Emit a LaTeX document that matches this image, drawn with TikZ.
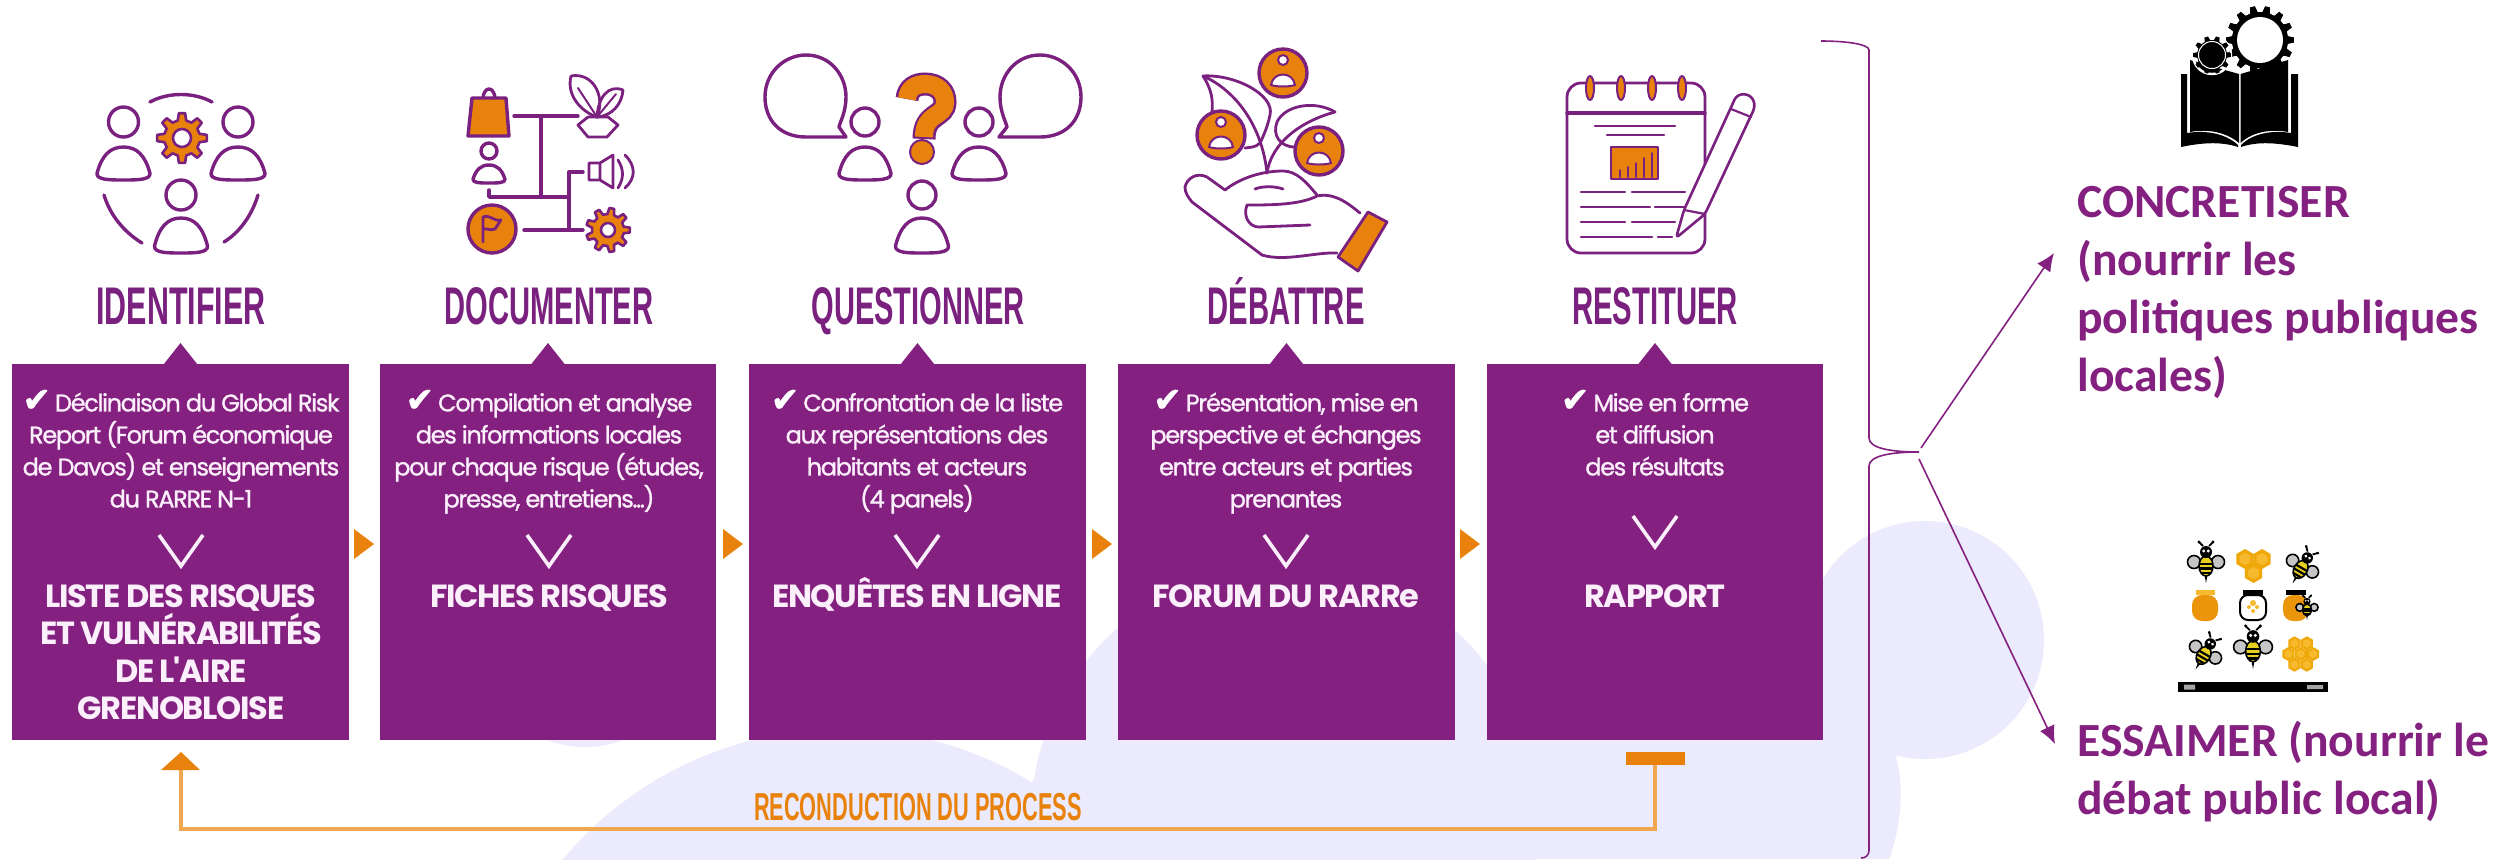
\documentclass[tikz,border=0pt]{standalone}
\usepackage{fontspec}
\usepackage{graphicx}
\usetikzlibrary{arrows.meta}
\newfontfamily\bodyf[LetterSpace=-5.5,FakeBold=1.2]{Poppins}
\newfontfamily\headf[LetterSpace=-4]{Poppins}
\newfontfamily\chkf[FakeBold=1.5]{DejaVu Sans}
\newfontfamily\ttlf{Liberation Sans}
\newfontfamily\rtf{Carlito}
\definecolor{boxp}{HTML}{84207F}
\definecolor{icop}{HTML}{7A2180}
\definecolor{orgc}{HTML}{E8820C}
\definecolor{orgl}{HTML}{F0A850}
\definecolor{lav}{HTML}{ECEAFD}
\definecolor{txtw}{HTML}{FBEFFB}
\definecolor{beey}{HTML}{E8D020}
\definecolor{honl}{HTML}{F7B92E}
\newdimen\pxu \pxu=0.5pt
\newcommand\chk{{\chkf\color{white}\fontsize{17}{16}\selectfont\char"2714}\,}
\newcommand\ttl[2]{\resizebox{#1\pxu}{\height}{\ttlf\fontsize{26.5}{30}\selectfont\bfseries #2}}
\newcommand\pers[6]{%
 \draw[ico] (#1,#2) circle[radius=#3];
 \draw[ico] ({#1-#6},{#5-0.2*(#5-#4)}) .. controls ({#1-.82*#6},{#4+.25*(#5-#4)}) and ({#1-.5*#6},#4) .. (#1,#4)
   .. controls ({#1+.5*#6},#4) and ({#1+.82*#6},{#4+.25*(#5-#4)}) .. ({#1+#6},{#5-0.2*(#5-#4)})
   .. controls ({#1+1.02*#6},#5) and ({#1+.5*#6},#5) .. (#1,#5)
   .. controls ({#1-.5*#6},#5) and ({#1-1.02*#6},#5) .. cycle;}
\newcommand\gearp[7]{%
 \path[#7] ({#1+#4*cos(-.3*360/#5)},{#2+#4*sin(-.3*360/#5)})
  \foreach \k in {0,...,\numexpr#5-1\relax}{
   -- ({#1+#4*cos((\k-.3)*360/#5)},{#2+#4*sin((\k-.3)*360/#5)})
   -- ({#1+#3*cos((\k-.16)*360/#5)},{#2+#3*sin((\k-.16)*360/#5)})
   -- ({#1+#3*cos((\k+.16)*360/#5)},{#2+#3*sin((\k+.16)*360/#5)})
   -- ({#1+#4*cos((\k+.3)*360/#5)},{#2+#4*sin((\k+.3)*360/#5)})} -- cycle;
 \path[#7,fill=white] (#1,#2) circle[radius=#6];}
\newcommand\badge[2]{%
 \draw[ico,fill=orgc] (#1,#2) circle[radius=24];
 \draw[icot,fill=white] (#1,{#2-13}) circle[radius=5];
 \draw[icot,fill=white] ({#1-12},{#2+12}) .. controls ({#1-10},{#2-2}) and ({#1+10},{#2-2}) .. ({#1+12},{#2+12}) .. controls ({#1+6},{#2+14}) and ({#1-6},{#2+14}) .. cycle;}
\newcommand\bee[4]{\begin{scope}[shift={(#1,#2)},rotate=#3,scale=#4]
 \draw[black,line width=.9pt] (-3,-17) -- (-7,-21) (3,-17) -- (7,-21);
 \fill[black] (-7,-21) circle[radius=1.6] (7,-21) circle[radius=1.6];
 \filldraw[fill=gray!45,draw=black,line width=.8pt] (-12,-1) circle[radius=6.5] (12,-1) circle[radius=6.5];
 \fill[black] (-1.5,12) -- (0,20) -- (1.5,12) -- cycle;
 \filldraw[fill=beey,draw=black,line width=.8pt] (0,3) ellipse[x radius=7,y radius=10];
 \draw[black,line width=1.1pt] (-6.5,1) -- (6.5,1) (-6.5,5.5) -- (6.5,5.5) (-4.5,10) -- (4.5,10);
 \fill[black] (0,-11) circle[radius=6];
 \fill[white] (-2.2,-12) circle[radius=1.6] (2.2,-12) circle[radius=1.6];
\end{scope}}
\newcommand\hexa[4]{%
 \fill[orgc!70!yellow] ({#1},{#2-#3}) -- ({#1+.866*#3},{#2-.5*#3}) -- ({#1+.866*#3},{#2+.5*#3}) -- ({#1},{#2+#3}) -- ({#1-.866*#3},{#2+.5*#3}) -- ({#1-.866*#3},{#2-.5*#3}) -- cycle;
 \fill[#4] ({#1},{#2-.62*#3}) -- ({#1+.54*#3},{#2-.31*#3}) -- ({#1+.54*#3},{#2+.31*#3}) -- ({#1},{#2+.62*#3}) -- ({#1-.54*#3},{#2+.31*#3}) -- ({#1-.54*#3},{#2-.31*#3}) -- cycle;}
\tikzset{
 ico/.style={draw=icop,line width=1.7pt,line join=round,line cap=round},
 icot/.style={draw=icop,line width=1pt,line join=round,line cap=round},
 pbox/.style={fill=boxp,draw=none,inner sep=0,outer sep=0},
 bodytxt/.style={text=txtw,font=\bodyf\fontsize{12}{16}\selectfont,align=center,inner sep=0,anchor=north},
 headtxt/.style={text=txtw,font=\headf\bfseries\fontsize{16}{18.75}\selectfont,align=center,inner sep=0,anchor=north},
 ttlnode/.style={text=icop,inner sep=0,anchor=base},
 rtxt/.style={text=boxp,font=\rtf\bfseries\fontsize{23.8}{29}\selectfont,align=left,inner sep=0,anchor=north west},
 chev/.style={draw=txtw,line width=1.8pt,line join=miter},
 fbline/.style={draw=orgl,line width=1.6pt},
 thinp/.style={draw=boxp,line width=.8pt},
}
\begin{document}
\begin{tikzpicture}[x=0.5pt,y=-0.5pt]
\useasboundingbox (0,0) rectangle (2507,859);
\fill[white] (0,0) rectangle (2507,859);
% background blobs
\begin{scope}
\clip (0,0) rectangle (2507,859);
\fill[lav] (842,1093) circle[radius=364];
\fill[lav] (585,641) circle[radius=106];
\fill[lav] (1285,819) circle[radius=254];
\fill[lav] (1925,640) circle[radius=119];
\fill[lav] (1033,780) -- (1285,700) -- (1850,650) -- (1896,757) .. controls (1905,790) and (1900,830) .. (1889,859) -- (1000,859) -- cycle;
\end{scope}
% boxes
\foreach \nm/\xa/\xb in {b1/12/349,b2/380/716,b3/749/1086,b4/1118/1455,b5/1487/1823}{
  \node[pbox,minimum width={(\xb-\xa)*\pxu},minimum height={376*\pxu}] (\nm) at ({(\xa+\xb)/2},552) {};
  \fill[boxp] ({(\xa+\xb)/2-17},364.5) -- ({(\xa+\xb)/2},343) -- ({(\xa+\xb)/2+17},364.5) -- cycle;
}
% step arrows
\foreach \xa in {354,723,1092,1460}{
  \fill[orgc] (\xa,529) -- ({\xa+20},544) -- (\xa,559) -- cycle;
}
% chevrons
\foreach \cx/\ty in {181/535,549/535,917/535,1286/535,1655/516}{
  \draw[chev] ({\cx-22},\ty) -- (\cx,{\ty+31}) -- ({\cx+22},\ty);
}
% titles
\node[ttlnode] (t1) at (181,324) {\ttl{169}{IDENTIFIER}};
\node[ttlnode] (t2) at (549,324) {\ttl{209}{DOCUMENTER}};
\node[ttlnode] (t3) at (918,324) {\ttl{213}{QUESTIONNER}};
\node[ttlnode] (t4) at (1286,324) {\ttl{157}{DÉBATTRE}};
\node[ttlnode] (t5) at (1655,324) {\ttl{166}{RESTITUER}};
% box texts
\node[bodytxt] (b1t) at (181,385) {\rule{0pt}{13pt}\chk Déclinaison du Global Risk\\Report (Forum économique\\de Davos) et enseignements\\du RARRE N-1};
\node[bodytxt] (b2t) at (549,385) {\rule{0pt}{13pt}\chk Compilation et analyse\\des informations locales\\pour chaque risque (études,\\presse, entretiens...)};
\node[bodytxt] (b3t) at (917,385) {\rule{0pt}{13pt}\chk Confrontation de la liste\\aux représentations des\\habitants et acteurs\\(4 panels)};
\node[bodytxt] (b4t) at (1286,385) {\rule{0pt}{13pt}\chk Présentation, mise en\\perspective et échanges\\entre acteurs et parties\\prenantes};
\node[bodytxt] (b5t) at (1655,385) {\rule{0pt}{13pt}\chk Mise en forme\\et diffusion\\des résultats};
\node[headtxt] (b1h) at (181,573) {\rule{0pt}{17pt}LISTE DES RISQUES\\ET VULNÉRABILITÉS\\DE L'AIRE\\GRENOBLOISE};
\node[headtxt] (b2h) at (549,573) {\rule{0pt}{17pt}FICHES RISQUES};
\node[headtxt] (b3h) at (917,573) {\rule{0pt}{17pt}ENQUÊTES EN LIGNE};
\node[headtxt] (b4h) at (1286,573) {\rule{0pt}{17pt}FORUM DU RARRe};
\node[headtxt] (b5h) at (1655,573) {\rule{0pt}{17pt}RAPPORT};
% feedback loop
\node[fill=orgc,inner sep=0,minimum width={59*\pxu},minimum height={13*\pxu}] (fbbar) at (1655,758) {};
\coordinate (fbc1) at (1655,829);
\coordinate (fbc2) at (181,829);
\coordinate (fbtip) at (181,770);
\draw[fbline] (fbbar.south) -- (fbc1) -- (fbc2) -- (fbtip);
\fill[orgc] (161,770) -- (181,752) -- (200,770) -- cycle;
\node[inner sep=0,anchor=base,text=orgc] (fbtxt) at (918,820) {\resizebox{328\pxu}{\height}{\ttlf\fontsize{19.5}{22}\selectfont\bfseries RECONDUCTION DU PROCESS}};
% brace
\coordinate (brtip) at (1919,452);
\draw[thinp] (1821,41) .. controls (1845,41) and (1869,44) .. (1869,50) -- (1869,438)
  .. controls (1869,448) and (1890,452) .. (brtip) .. controls (1890,452) and (1869,456) .. (1869,466)
  -- (1869,850) .. controls (1869,855) and (1866,858) .. (1861,858);
% right texts
\node[rtxt] (rt1) at (2077,177) {\rule{0pt}{20pt}CONCRETISER\\(nourrir les\\politiques publiques\\locales)};
\node[rtxt] (rt2) at (2077,716) {\rule{0pt}{20pt}ESSAIMER (nourrir le\\débat public local)};
\coordinate (ar1a) at (1921,448);
\coordinate (ar1b) at (2054,253);
\coordinate (ar2a) at (1919,459);
\coordinate (ar2b) at (2055,744);
\draw[thinp,-{Latex[length=9pt,width=8pt]}] (ar1a) -- (ar1b);
\draw[thinp,-{Latex[length=9pt,width=8pt]}] (ar2a) -- (ar2b);
% ---------- icon 1
\draw[ico] (150,102) .. controls (168,92) and (194,92) .. (212,102);
\draw[ico] (104,195) .. controls (110,215) and (124,232) .. (142,243);
\draw[ico] (258,195) .. controls (252,215) and (240,232) .. (224,242);
\pers{123.5}{122}{15}{147}{180}{26.5}
\pers{238}{122}{15}{147}{180}{27}
\pers{181}{195}{15}{218}{253}{26.5}
\gearp{182}{138}{25}{18}{8}{9}{ico,line width=1.3pt,fill=orgc}
% ---------- icon 2
\draw[ico] (483,98) .. controls (484,86) and (494,86) .. (495,98);
\draw[ico,fill=orgc] (472,98) -- (506,98) -- (509,136) -- (468,136) -- cycle;
\pers{489}{151}{8}{165}{183}{16}
\draw[ico] (514,116) -- (578,116) (541,116) -- (541,197);
\draw[ico] (489,190) -- (489,197) -- (569,197);
\draw[ico] (583,172) -- (569,172) -- (569,230);
\draw[ico] (524,230) -- (583,230);
\draw[ico,fill=orgc] (492,229) circle[radius=24];
\draw[icot,line width=1.4pt,fill=orgc] (483,242) -- (483,217) .. controls (490,214) and (494,222) .. (501,220) -- (495,229) .. controls (490,231) and (487,228) .. (483,229);
\gearp{608}{230}{22}{16}{9}{7}{ico,line width=1.3pt,fill=orgc}
\draw[ico,line width=1.4pt] (589,163) rectangle (600,180) (600,163) -- (613,155) -- (613,188) -- (600,180);
\draw[ico,line width=1.4pt] (618,160) .. controls (624,170) and (624,178) .. (618,188);
\draw[ico,line width=1.4pt] (625,155) .. controls (636,166) and (636,178) .. (625,188);
\draw[ico,line width=1.4pt] (578,125) -- (588,117) -- (608,117) -- (618,125) -- (607,137) -- (588,137) -- cycle;
\draw[ico,line width=1.4pt] (571,76) .. controls (592,72) and (606,95) .. (597,117) .. controls (582,112) and (566,96) .. (571,76);
\draw[ico,line width=1.4pt] (623,90) .. controls (608,84) and (598,98) .. (597,117) .. controls (612,116) and (622,104) .. (623,90);
\draw[ico,line width=1pt] (578,88) -- (597,117) (616,94) -- (597,117);
% ---------- icon 3
\draw[ico] (846,137) -- (806,137) .. controls (780,137) and (765,120) .. (765,97) .. controls (765,72) and (785,55) .. (806,55) .. controls (830,55) and (846,75) .. (846,97) .. controls (846,112) and (840,122) .. (839,127) -- cycle;
\draw[ico] (999,137) -- (1040,137) .. controls (1066,137) and (1081,120) .. (1081,97) .. controls (1081,72) and (1061,55) .. (1040,55) .. controls (1016,55) and (1000,75) .. (1000,97) .. controls (1000,112) and (1006,122) .. (1007,127) -- cycle;
\pers{865}{122}{14}{147}{180}{26}
\pers{979}{122}{14}{147}{180}{27}
\pers{922}{195}{14}{218}{253}{26.5}
\draw[icop,line width=11.5pt] (907,99) .. controls (908,88) and (916,84) .. (925,84) .. controls (938,84) and (945,92) .. (945,102) .. controls (945,118) and (924,112) .. (924,139);
\draw[orgc,line width=9pt] (907,99) .. controls (908,88) and (916,84) .. (925,84) .. controls (938,84) and (945,92) .. (945,102) .. controls (945,118) and (924,112) .. (924,137);
\draw[icot,fill=orgc] (922,152) circle[radius=12];
% ---------- icon 4
\draw[ico,line width=1.4pt] (1203,76) .. controls (1235,74) and (1275,95) .. (1270,115) .. controls (1268,125) and (1264,135) .. (1260,143) .. controls (1255,148) and (1250,147) .. (1245,148);
\draw[ico,line width=1.4pt] (1203,76) .. controls (1212,90) and (1213,100) .. (1212,112);
\draw[ico,line width=1.4pt] (1203,76) .. controls (1235,90) and (1262,125) .. (1267,173);
\draw[ico,line width=1.4pt] (1335,112) .. controls (1315,100) and (1285,105) .. (1277,122) .. controls (1272,135) and (1280,147) .. (1295,147);
\draw[ico,line width=1.4pt] (1335,112) .. controls (1305,120) and (1272,140) .. (1267,173);
\badge{1283}{73}
\badge{1221}{135}
\badge{1319}{151}
\draw[ico,line width=1.4pt] (1255,189) .. controls (1262,186) and (1275,186) .. (1283,189);
\draw[ico,line width=1.4pt] (1225,190) .. controls (1240,178) and (1262,171) .. (1283,171) .. controls (1297,171) and (1307,183) .. (1317,195);
\draw[ico,line width=1.4pt] (1225,190) -- (1207,177) .. controls (1197,172) and (1187,178) .. (1185,187) .. controls (1185,193) and (1188,197) .. (1192,202) -- (1262,255) .. controls (1285,262) and (1315,252) .. (1337,253);
\draw[ico,line width=1.4pt] (1310,225) -- (1258,227) .. controls (1248,226) and (1243,215) .. (1247,205) .. controls (1270,205) and (1300,205) .. (1317,196) .. controls (1335,192) and (1350,205) .. (1360,213);
\draw[ico,line width=1.4pt,fill=orgc] (1368,212) -- (1387,222) -- (1358,271) -- (1338,257) -- cycle;
% ---------- icon 5
\draw[ico,line width=1.4pt,rounded corners=7pt] (1567,83) rectangle (1705,253);
\draw[ico] (1567,113) -- (1705,113);
\foreach \rx in {1590,1621,1652,1682}{\draw[icot,fill=orgc] (\rx,88) ellipse[x radius=4,y radius=12];}
\draw[ico,line width=1.3pt] (1595,126) -- (1675,126) (1607,135) -- (1664,135);
\draw[ico,line width=1.2pt,fill=orgc] (1611,147) rectangle (1658,179);
\draw[icot,line width=.8pt] (1620,177) -- (1620,170) (1628,177) -- (1628,167) (1636,177) -- (1636,163) (1644,177) -- (1644,158) (1652,177) -- (1652,153);
\draw[ico,line width=1.3pt] (1581,192) -- (1625,192) (1632,192) -- (1685,192)
  (1581,207) -- (1650,207) (1655,207) -- (1692,207)
  (1581,222) -- (1625,222) (1632,222) -- (1675,222)
  (1581,237) -- (1652,237) (1658,237) -- (1672,237);
\draw[ico,line width=1.3pt,fill=white,rounded corners=2pt] (1676,238) -- (1684,210) -- (1733,103) .. controls (1738,92) and (1752,92) .. (1755,107) -- (1705,214) -- cycle;
\draw[ico,line width=1.1pt] (1731,109) -- (1751,117) (1684,210) -- (1705,214);
% ---------- book icon
\gearp{2260}{40}{34}{28}{14}{23}{fill=black}
\fill[black] (2181,74) -- (2187,74) -- (2187,133) .. controls (2205,130) and (2225,133) .. (2238,145) -- (2238,147) .. controls (2220,141) and (2200,143) .. (2181,147) -- cycle;
\fill[black] (2298,74) -- (2291,74) -- (2291,133) .. controls (2273,130) and (2253,133) .. (2241,145) -- (2241,147) .. controls (2258,141) and (2278,143) .. (2298,147) -- cycle;
\fill[black] (2190,60) -- (2239,74) -- (2239,143) .. controls (2225,131) and (2205,129) .. (2190,132) -- cycle;
\fill[black] (2288,60) -- (2240.5,74) -- (2240.5,143) .. controls (2253,131) and (2273,129) .. (2288,132) -- cycle;
\gearp{2260}{40}{34}{28}{14}{23}{fill=black}
\fill[white] (2260,40) ellipse[x radius=22,y radius=22];
\draw[white,line width=1.2pt] (2212,55) circle[radius=19];
\gearp{2212}{55}{19}{15}{10}{0.01}{fill=black}
\draw[white,line width=.5pt] (2212,55) circle[radius=13.5];
% ---------- bees
\bee{2206}{563}{0}{1}
\hexa{2245}{559}{10}{honl}\hexa{2262}{559}{10}{honl}\hexa{2253.5}{573}{10}{honl}
\bee{2302}{567}{-30}{.95}
% jar 1
\fill[honl] (2196,590) rectangle (2215,595);
\fill[orgc!85!yellow,rounded corners=5pt] (2192,595) rectangle (2218,621);
% jar 2
\fill[black] (2243,590) rectangle (2263,595);
\filldraw[fill=white,draw=black,line width=1pt,rounded corners=4pt] (2240,595) rectangle (2266,620);
\fill[honl] (2253,603) circle[radius=3] (2249,607) circle[radius=2] (2257,607) circle[radius=2] (2253,611) circle[radius=2];
% jar 3
\fill[black] (2286,590) rectangle (2306,595);
\fill[orgc!85!yellow,rounded corners=5pt] (2283,595) rectangle (2308,621);
\bee{2307}{608}{0}{.6}
\bee{2205}{653}{-30}{.95}
\bee{2253}{648}{0}{1.05}
\foreach \hx/\hy in {2300.7/654,2288.4/654,2313/654,2294.5/643.3,2306.9/643.3,2294.5/664.7,2306.9/664.7}{\hexa{\hx}{\hy}{7}{honl}}
\fill[black] (2178,682) rectangle (2328,692);
\fill[gray!70] (2184,684.5) rectangle (2195,689.5) (2307,685) rectangle (2323,689);
\end{tikzpicture}
\end{document}
